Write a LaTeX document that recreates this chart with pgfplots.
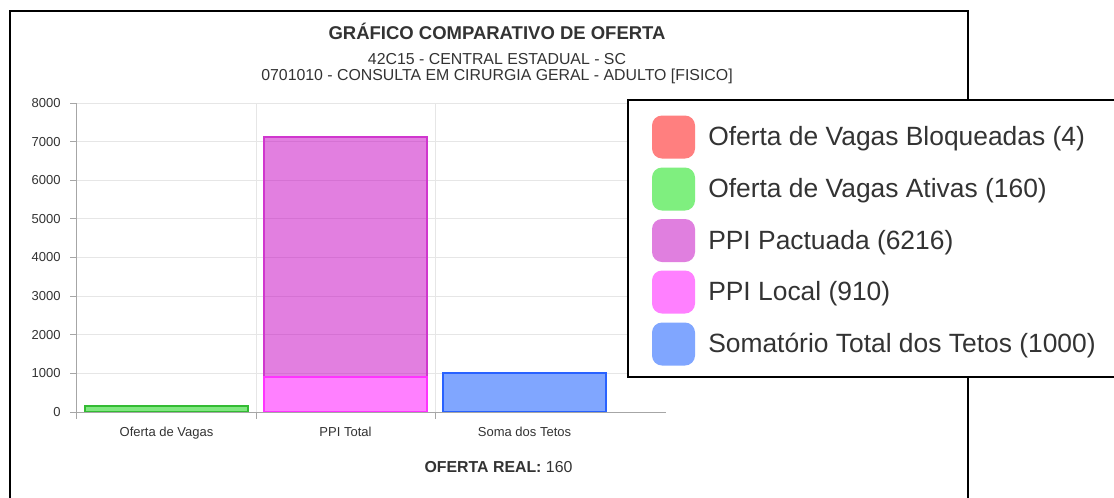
\documentclass[border=0pt]{standalone}
\usepackage{pgfplots}
\pgfplotsset{compat=1.18}
\usepackage{fontspec}
\setmainfont{Liberation Sans}
\definecolor{txt}{HTML}{333333}
\definecolor{axisgray}{HTML}{A6A6A6}
\definecolor{gridgray}{HTML}{E6E6E6}
\definecolor{cRed}{HTML}{FF7F7F}
\definecolor{cGreenF}{HTML}{80E880}
\definecolor{cGreenB}{HTML}{33BB33}
\definecolor{cGreenL}{HTML}{7FEF7F}
\definecolor{cPact}{HTML}{C600C2}
\definecolor{cPactB}{HTML}{D036CE}
\definecolor{cPactL}{HTML}{E07FDF}
\definecolor{cLocalF}{HTML}{FF80FF}
\definecolor{cLocalB}{HTML}{FF33FF}
\definecolor{cSomaF}{HTML}{80A6FF}
\definecolor{cSomaB}{HTML}{2962FF}
\begin{document}
\begin{tikzpicture}
\clip (0,0) rectangle (835.5pt,-372.75pt);
\fill[white] (0,0) rectangle (835.5pt,-372.75pt);
\begin{axis}[
  at={(57.75pt,-309pt)}, anchor=south west,
  scale only axis, width=441.75pt, height=231.75pt,
  xmin=-0.5, xmax=2.7905, ymin=0, ymax=8000,
  axis x line*=bottom, axis y line*=left,
  axis line style={draw=axisgray, line width=0.75pt, -},
  xtick={-0.5,0.5,1.5}, xticklabels={},
  extra x ticks={0,1,2},
  extra x tick labels={Oferta de Vagas,PPI Total,Soma dos Tetos},
  extra x tick style={grid=none, major tick length=0pt,
     tick label style={yshift=-7.7pt}},
  ytick={0,1000,2000,3000,4000,5000,6000,7000,8000},
  yticklabel style={xshift=-3.75pt},
  xmajorgrids, ymajorgrids,
  grid style={draw=gridgray, line width=0.75pt},
  tick style={draw=axisgray, line width=0.75pt},
  major tick length=5pt, tick align=outside,
  /pgf/number format/assume math mode=true,
  /pgf/number format/1000 sep={},
  tick label style={font=\fontsize{9.75}{11}\selectfont, text=txt},
  ybar, bar shift=0pt, bar width=0.91,
]
% Oferta de Vagas: Ativas (160) + Bloqueadas (4) stacked = 164
\addplot[fill=cRed, draw=none] coordinates {(0,164)};
\addplot[fill=cGreenF, draw=cGreenB, line width=1.5pt] coordinates {(0,160)};
% PPI Total: Local (910) + Pactuada (6216) stacked = 7126
\addplot[fill=cPact, fill opacity=0.5, draw=cPactB, line width=1.5pt] coordinates {(1,7126)};
\addplot[fill=cLocalF, draw=cLocalB, line width=1.5pt] coordinates {(1,910)};
% Soma dos Tetos
\addplot[fill=cSomaF, draw=cSomaB, line width=1.5pt] coordinates {(2,1000)};
\draw[axisgray, line width=0.75pt] (axis cs:-0.5,0) -- (axis cs:2.7905,0);
\end{axis}
\begin{scope}[x=0.75pt, y=-0.75pt]
% outer frame
\draw[line width=1.6pt, black] (10,510) -- (10,11) -- (968,11) -- (968,510);
% titles
\node[anchor=base, inner sep=0, text=txt, font=\fontsize{13.87}{16}\selectfont\bfseries] at (497,39) {GRÁFICO COMPARATIVO DE OFERTA};
\node[anchor=base, inner sep=0, text=txt, font=\fontsize{11.9}{14}\selectfont] at (497,64) {42C15 - CENTRAL ESTADUAL - SC};
\node[anchor=base, inner sep=0, text=txt, font=\fontsize{11.9}{14}\selectfont] at (497,80) {0701010 - CONSULTA EM CIRURGIA GERAL - ADULTO [FISICO]};
\node[anchor=base, inner sep=0, text=txt, font=\fontsize{11.9}{14}\selectfont] at (498.5,472) {\textbf{OFERTA REAL:} 160};
% legend box
\draw[line width=1.6pt, black, fill=white] (628,100) rectangle (1130,377);
\foreach \c/\yc/\t in {cRed/137/{Oferta de Vagas Bloqueadas (4)},
                       cGreenL/189/{Oferta de Vagas Ativas (160)},
                       cPactL/240.5/{PPI Pactuada (6216)},
                       cLocalF/292/{PPI Local (910)},
                       cSomaF/344/{Somatório Total dos Tetos (1000)}} {
  \fill[\c, rounded corners=7.5pt] (652,\yc-21.5) rectangle (695,\yc+21.5);
  \node[anchor=base west, inner sep=0, text=txt, font=\fontsize{19.8}{22}\selectfont] at (708,\yc+8.5) {\t};
}
\end{scope}
\end{tikzpicture}
\end{document}
